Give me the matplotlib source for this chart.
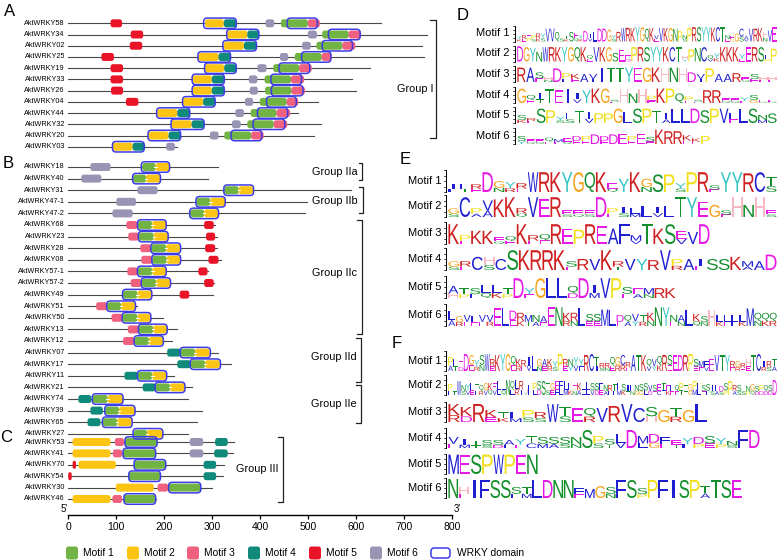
import matplotlib
matplotlib.use("Agg")
import matplotlib.pyplot as plt
from matplotlib.patches import FancyBboxPatch, PathPatch
from matplotlib.textpath import TextPath
from matplotlib.font_manager import FontProperties
from matplotlib.transforms import Affine2D

plt.rcParams["font.family"] = ["Liberation Sans", "DejaVu Sans"]

# ---------------- gene structure data (amino-acid positions) ----------------
GROUP_A_GENES = ["AktWRKY58", "AktWRKY34", "AktWRKY02", "AktWRKY25", "AktWRKY19", "AktWRKY33",
                 "AktWRKY26", "AktWRKY04", "AktWRKY44", "AktWRKY32", "AktWRKY20", "AktWRKY03"]
GROUP_A_LENGTHS = [652, 747, 736, 742, 629, 591, 599, 521, 479, 526, 511, 227]
GROUP_A_MOTIFS = [
    [(5, 88, 112), (2, 285, 324), (4, 324, 350), (6, 411, 429), (1, 443, 499), (3, 499, 524)],
    [(5, 130, 156), (2, 331, 373), (4, 373, 397), (6, 499, 518), (1, 529, 584), (3, 584, 610)],
    [(5, 128, 154), (2, 324, 366), (4, 366, 392), (6, 487, 505), (1, 517, 571), (3, 571, 598)],
    [(5, 69, 95), (2, 271, 313), (4, 313, 338), (6, 441, 458), (1, 472, 528), (3, 528, 549)],
    [(5, 88, 114), (2, 285, 325), (4, 325, 350), (6, 394, 413), (1, 427, 481), (3, 481, 507)],
    [(5, 88, 114), (2, 259, 299), (4, 299, 325), (6, 376, 394), (1, 409, 464), (3, 464, 491)],
    [(5, 89, 114), (2, 259, 299), (4, 299, 325), (6, 378, 395), (1, 410, 465), (3, 465, 493)],
    [(5, 120, 146), (2, 239, 281), (4, 281, 306), (6, 368, 385), (1, 399, 455), (3, 455, 479)],
    [(2, 185, 227), (4, 227, 253), (6, 348, 366), (1, 380, 434), (3, 434, 462)],
    [(2, 215, 257), (4, 257, 283), (6, 341, 359), (1, 373, 428), (3, 428, 456)],
    [(2, 167, 209), (4, 209, 234), (6, 295, 313), (1, 325, 381), (3, 381, 407)],
    [(2, 92, 134), (4, 134, 160), (6, 204, 222)],
]
GROUP_A_DOMAINS = [
    [(282, 350), (456, 519)], [(330, 397), (542, 608)], [(322, 392), (529, 592)],
    [(270, 338), (486, 547)], [(284, 350), (439, 503)], [(258, 325), (422, 486)],
    [(258, 325), (423, 489)], [(238, 306), (413, 475)], [(184, 253), (394, 457)],
    [(214, 283), (385, 451)], [(166, 234), (339, 403)], [(92, 158)],
]

GROUP_B_GENES = ["AktWRKY18", "AktWRKY40", "AktWRKY31", "AktWRKY47-1", "AktWRKY47-2", "AktWRKY68",
                 "AktWRKY23", "AktWRKY28", "AktWRKY08", "AktWRKY57-1", "AktWRKY57-2", "AktWRKY49",
                 "AktWRKY51", "AktWRKY50", "AktWRKY13", "AktWRKY12", "AktWRKY07", "AktWRKY17",
                 "AktWRKY11", "AktWRKY21", "AktWRKY74", "AktWRKY39", "AktWRKY65", "AktWRKY27"]
GROUP_B_LENGTHS = [311, 292, 589, 498, 493, 306, 309, 310, 318, 292, 303, 301,
                   144, 198, 227, 215, 311, 338, 220, 257, 250, 278, 269, 250]
GROUP_B_MOTIFS = [
    [(6, 46, 88), (1, 154, 182), (2, 182, 211)],
    [(6, 27, 69), (1, 135, 162), (2, 162, 192)],
    [(6, 144, 186), (1, 325, 355), (2, 355, 385)],
    [(6, 100, 141), (1, 267, 296), (2, 296, 327)],
    [(6, 92, 134), (1, 254, 283), (2, 283, 313)],
    [(3, 121, 144), (1, 145, 175), (2, 175, 204), (5, 283, 303)],
    [(3, 125, 147), (1, 147, 178), (2, 178, 208), (5, 287, 306)],
    [(3, 150, 173), (1, 173, 204), (2, 204, 234), (5, 285, 306)],
    [(3, 152, 175), (1, 175, 205), (2, 205, 234), (5, 292, 313)],
    [(3, 123, 145), (1, 145, 175), (2, 175, 204), (5, 271, 290)],
    [(3, 130, 153), (1, 153, 183), (2, 183, 213), (5, 283, 303)],
    [(1, 114, 144), (2, 144, 174), (5, 232, 252)],
    [(3, 58, 81), (1, 81, 110), (2, 110, 140)],
    [(3, 90, 113), (1, 113, 144), (2, 144, 172)],
    [(3, 124, 147), (1, 147, 177), (2, 177, 206)],
    [(3, 114, 138), (1, 138, 168), (2, 168, 198)],
    [(4, 206, 234), (1, 234, 264), (2, 264, 295)],
    [(4, 227, 255), (1, 255, 285), (2, 285, 316)],
    [(4, 117, 145), (1, 145, 175), (2, 175, 205)],
    [(4, 155, 182), (1, 182, 212), (2, 212, 243)],
    [(4, 21, 48), (1, 51, 82), (2, 82, 114)],
    [(4, 46, 72), (1, 77, 106), (2, 106, 139)],
    [(4, 40, 67), (1, 72, 102), (2, 102, 133)],
    [(1, 137, 164), (2, 164, 197)],
]
GROUP_B_DOMAINS = [
    [(152, 211)], [(134, 192)], [(324, 386)], [(266, 327)], [(253, 313)], [(144, 204)],
    [(146, 208)], [(172, 234)], [(174, 234)], [(144, 204)], [(152, 213)], [(113, 174)],
    [(80, 140)], [(112, 172)], [(146, 206)], [(137, 198)], [(233, 296)], [(254, 317)],
    [(144, 205)], [(181, 243)], [(50, 114)], [(76, 139)], [(71, 133)], [(135, 197)],
]

GROUP_C_GENES = ["AktWRKY53", "AktWRKY41", "AktWRKY70", "AktWRKY54", "AktWRKY30", "AktWRKY46"]
GROUP_C_LENGTHS = [345, 344, 324, 322, 299, 182]
GROUP_C_MOTIFS = [
    [(2, 9, 88), (3, 97, 116), (1, 118, 185), (6, 253, 281), (4, 306, 332)],
    [(2, 9, 88), (3, 93, 112), (1, 114, 182), (6, 253, 281), (4, 304, 332)],
    [(5, 9, 16), (2, 21, 99), (1, 137, 203), (4, 282, 308)],
    [(5, 0, 7), (1, 126, 192), (4, 282, 308)],
    [(2, 99, 178), (3, 186, 208), (1, 209, 276)],
    [(2, 9, 88), (3, 92, 112), (1, 116, 182)],
]
GROUP_C_DOMAINS = [[(118, 185)], [(114, 182)], [(137, 203)], [(126, 192)], [(209, 276)], [(116, 182)]]

GROUP_NAMES = ["Group I", "Group IIa", "Group IIb", "Group IIc", "Group IId", "Group IIe", "Group III"]
X_TICKS = [0, 100, 200, 300, 400, 500, 600, 700, 800]
MOTIF_NAMES = ["Motif 1", "Motif 2", "Motif 3", "Motif 4", "Motif 5", "Motif 6"]

# ---------------- sequence logo data (columns: letters top->bottom) ----------------
D_COLUMNS = [
    "YK RE EP PS RK YS V V Q TS TK S EQ YK D IV L D D G YS R W R K Y G Q K VE V K G N P NS P R S Y Y K C T NE EG G CS AV V R K HN V E",
    "D G Y N W R K Y G Q K QE V K G S E ED P R S Y Y K C T HY P N C QV YK K K K YE E R S LP P",
    "R A SE HN D PL KE A VI I T T Y E G K H N H D VI P A A R EQ SE HE HE",
    "G QE IT T E I IV Y K G SE H N H PE K P Q PE SE R R EQ EQ YE SG EQ EQ",
    "SK RE S P YS LS T IV P P G L S P T IA L L D S P V LE L S NM S",
    "SY EQ EQ QE ME EQ DE PE D DE D E PE E SE K R R KE KE P",
]
D_HEIGHTS = [
    [.35, .4, .55, .4, .5, .5, .8, .8, .6, .5, .35, .6, .55, .4, .65, .5, .6, .8, .8, .75, .4, .6, .85, .85, .85,
     .9, .9, .8, .85, .4, .85, .85, .85, .8, .65, .4, .85, .9, .9, .9, .9, .85, .9, .9, .4, .35, .5, .8, .35, .8,
     .8, .85, .6, .7, .9],
    [.95, .9, .85, .6, .9, .9, .9, .9, .9, .9, .9, .4, .9, .9, .9, .55, .75, .4, .9, .9, .9, .9, .9, .9, .9, .9,
     .35, .75, .85, .9, .4, .5, .9, .9, .9, .45, .9, .9, .9, .4, .8],
    [.9, .9, .6, .3, .85, .55, .5, .5, .5, .9, .9, .9, .9, .9, .9, .9, .9, .9, .9, .6, .5, .85, .5, .5, .55, .3,
     .5, .3, .3],
    [.9, .5, .6, .85, .8, .9, .6, .8, .9, .9, .2, .9, .6, .9, .45, .9, .9, .6, .4, .2, .8, .8, .3, .3, .35, .5,
     .2, .2],
    [.5, .3, .9, .8, .4, .6, .75, .7, .6, .6, .9, .7, .9, .9, .75, .6, .9, .9, .9, .8, .9, .9, .6, .9, .9, .5, .6],
    [.5, .3, .3, .4, .3, .35, .5, .5, .6, .5, .6, .65, .5, .65, .45, .9, .8, .8, .55, .35, .5],
]
D_ENDS = [777, 777, 777, 777, 777, 710]

E_COLUMNS = [
    "IL LT RE D GN YR RE W R K Y G Q K EQ Y K GN S P YS P R SE Y Y R C TS",
    "GS C PA VA K K RQ V E R ES EQ ES D PE IS LM L IV L T Y E G SE H N H ES",
    "K PE K K EQ QE K RE QE R E P R E A F MV T K S EV V D",
    "GS RE C HS C S K R R K SE R V K RT V Y R V PR A IE S S K MA A D",
    "AH TP SL LQ LK TP D YE G L L QD D IM V P SE EA MN R K",
    "LA GR VE LE VE VR E L DE RK MT NA AE E N KR RN L SE SE M L DE QA VY TR KN N Y NE AN L KQ SN H LK LE LF LK M QN QK QR",
]
E_HEIGHTS = [
    [.35, .35, .35, .9, .5, .45, .4, .9, .9, .9, .9, .9, .9, .9, .4, .6, .9, .6, .8, .8, .4, .9, .9, .3, .9, .9,
     .85, .9, .7],
    [.4, .9, .4, .75, .8, .9, .4, .9, .8, .9, .3, .3, .3, .9, .4, .45, .4, .5, .45, .5, .9, .9, .7, .55, .3, .9,
     .55, .9, .3],
    [.9, .4, .6, .6, .3, .35, .9, .4, .45, .9, .7, .65, .9, .8, .7, .9, .4, .9, .7, .9, .6, .55, .9],
    [.4, .4, .6, .6, .5, .9, .9, .9, .9, .9, .4, .5, .5, .9, .4, .5, .5, .45, .9, .5, .5, .5, .5, .5, .6, .4,
     .4, .7],
    [.55, .45, .45, .6, .6, .45, .9, .45, .9, .9, .9, .55, .9, .6, .9, .9, .5, .45, .45, .45, .45],
    [.7, .45, .5, .45, .5, .5, .8, .8, .7, .6, .5, .5, .45, .85, .85, .6, .6, .8, .55, .55, .75, .75, .5, .5,
     .55, .5, .6, .85, .85, .5, .5, .75, .55, .45, .75, .5, .5, .5, .5, .8, .6, .6, .6],
]
E_ENDS = [777, 777, 710, 777, 676, 777]

F_COLUMNS = [
    "PA LT ED D GE YR SN W RE K Y G QE KR RE IV L GN AE KR YS P RE NY YV YF R C TI RS RN QE GR CR RE A T K QV VY "
    "QK R SE E D R P SE ME FV E V T Y RE GR RE HE T C IR RS TA",
    "PL LT W NS YV LE TL QR GV KQ EV LL LQ N QL LR RI HY LL PL SD S TS GE EF FL LM LK EN KA LL LL SV SD FE NA RL "
    "TL LM SK IT LN NG SG SL VD SE EC TF EK LE QE PT TT GG PM LL SE SL IS LA DS SP P RA SS LS NP GQ SD PD QD SD D",
    "KR KD R KE TK LM PS RS W TS E QR V R V C SH G TR G L",
    "VE IM TT SS SD AL YE TC SM SA SS NN S PS ST LV D ML DG FE ET YL DP SE YP NS F D",
    "M E S P W P E N",
    "N HE I F S S SL TM L D N N FE M G SN F S SP P F I S P TA T S E",
]
F_HEIGHTS = [
    [.7, .6, .5, .85, .8, .55, .8, .85, .6, .8, .85, .85, .75, .6, .55, .7, .75, .6, .6, .6, .5, .85, .6, .6,
     .7, .6, .8, .85, .7, .4, .4, .7, .7, .8, .45, .8, .8, .8, .6, .6, .75, .8, .8, .8, .8, .8, .85, .6, .5, .5,
     .6, .8, .8, .8, .5, .5, .4, .6, .8, .85, .5, .5, .6],
    [.55, .5, .7, .5, .55, .6, .55, .5, .6, .6, .6, .7, .65, .75, .7, .75, .7, .3, .5, .6, .7, .7, .6, .6, .7,
     .7, .7, .6, .5, .6, .65, .65, .6, .6, .6, .5, .5, .55, .6, .55, .5, .5, .5, .55, .6, .5, .5, .55, .6, .5,
     .5, .5, .6, .5, .55, .7, .6, .5, .55, .5, .5, .45, .6, .7, .5, .5, .5, .45, .55, .45, .5, .5, .5, .75],
    [.9, .75, .9, .6, .5, .5, .6, .5, .9, .75, .7, .7, .7, .8, .9, .7, .75, .6, .7, .6, .9],
    [.55, .45, .35, .4, .4, .4, .45, .6, .55, .55, .55, .55, .9, .6, .45, .7, .9, .6, .7, .55, .4, .5, .55, .6,
     .5, .35, .9, .9],
    [.97, .97, .97, .97, .97, .97, .97, .97],
    [.95, .55, .9, .9, .9, .9, .55, .55, .9, .9, .9, .9, .5, .45, .6, .55, .9, .9, .5, .9, .9, .9, .9, .9, .6,
     .9, .9, .9],
]
F_ENDS = [777, 777, 707, 760, 538, 742]

# ---------------- styles ----------------
MOTIF_COLORS = {1: "#72b443", 2: "#fcc514", 3: "#f0607f", 4: "#0f8a7b", 5: "#ea1429", 6: "#9795b3"}
DOMAIN_EDGE = "#3c3ce6"
AA_COLORS = {}
for aa in "ACFILMVW":
    AA_COLORS[aa] = "#1f1fd1"
for aa in "NQST":
    AA_COLORS[aa] = "#13902c"
for aa in "DE":
    AA_COLORS[aa] = "#e619e6"
for aa in "KR":
    AA_COLORS[aa] = "#cf1f1f"
AA_COLORS.update({"H": "#f7b9c2", "G": "#f7a21b", "P": "#f2df1a", "Y": "#35c4c4"})

PX_PER_UNIT = 384.0 / 800.0   # horizontal pixels per amino acid
LINE_COLOR = "#484848"

fig = plt.figure(figsize=(7.8, 5.6), dpi=100)
ax_logo = fig.add_axes([0, 0, 1, 1])
ax_logo.set_xlim(0, 780)
ax_logo.set_ylim(560, 0)
ax_logo.axis("off")

ax = fig.add_axes([68.3 / 780, 45 / 560, 384 / 780, 515 / 560])
ax.patch.set_alpha(0)
ax.set_xlim(0, 800)
ax.set_ylim(515, 0)
for side in ["top", "right", "left"]:
    ax.spines[side].set_visible(False)
ax.spines["bottom"].set_linewidth(1.0)
ax.set_yticks([])
ax.set_xticks(X_TICKS)
ax.tick_params(axis="x", labelsize=7.5, length=3, width=0.9, pad=2)


def round_box(axis, x, y, w, h, face, edge="none", lw=0.0, radius_px=2.5, z=2):
    r = min(radius_px / PX_PER_UNIT, w / 2.0, h / (2.0 * PX_PER_UNIT))
    patch = FancyBboxPatch((x, y - h / 2.0), w, h, boxstyle=f"round,pad=0,rounding_size={r}",
                           mutation_aspect=PX_PER_UNIT, facecolor=face, edgecolor=edge,
                           linewidth=lw, zorder=z, clip_on=False)
    axis.add_patch(patch)


def draw_gene_rows(names, lengths, motifs, domains, y0, step, white_gap=False):
    for i, name in enumerate(names):
        y = y0 + i * step
        ax.plot([0, lengths[i]], [y, y], color=LINE_COLOR, lw=0.8, zorder=1, clip_on=False)
        ax.text(-7, y, name, ha="right", va="center", fontsize=5.2)
        for m, s, e in motifs[i]:
            round_box(ax, s, y, e - s, 8, MOTIF_COLORS[m])
            if white_gap and m == 1:
                ax.plot([e - 2.5, e + 2.5], [y, y], color="white", lw=0.8, zorder=3)
        for s, e in domains[i]:
            round_box(ax, s, y, e - s, 10.5, "none", edge=DOMAIN_EDGE, lw=1.1, radius_px=3.5, z=4)


draw_gene_rows(GROUP_A_GENES, GROUP_A_LENGTHS, GROUP_A_MOTIFS, GROUP_A_DOMAINS, 23.3, 11.22)
draw_gene_rows(GROUP_B_GENES, GROUP_B_LENGTHS, GROUP_B_MOTIFS, GROUP_B_DOMAINS, 167.0, 11.6, white_gap=True)
draw_gene_rows(GROUP_C_GENES, GROUP_C_LENGTHS, GROUP_C_MOTIFS, GROUP_C_DOMAINS, 442.0, 11.4)


def bracket(x, y_top, y_bot, tick, label, label_x, label_y):
    ax.plot([x - tick, x, x, x - tick], [y_top, y_top, y_bot, y_bot], color="#222222", lw=0.9, clip_on=False)
    ax.text(label_x, label_y, label, ha="right", va="center", fontsize=7.8)


bracket(765, 20, 138, 12, GROUP_NAMES[0], 760, 89)
bracket(611, 163, 180, 6, GROUP_NAMES[1], 603, 172)
bracket(614, 187, 213, 8, GROUP_NAMES[2], 603, 201)
bracket(611, 220, 334, 10, GROUP_NAMES[3], 601, 273)
bracket(610, 338, 382, 10, GROUP_NAMES[4], 601, 357)
bracket(610, 385, 423, 10, GROUP_NAMES[5], 601, 404)
bracket(447, 437, 502, 10, GROUP_NAMES[6], 437, 469)

ax_logo.text(64, 509, "5'", ha="center", va="center", fontsize=7)
ax_logo.text(457, 509, "3'", ha="center", va="center", fontsize=7)

# panel letters
for letter, px, py in [("A", 10, 11), ("B", 8, 163), ("C", 6, 437), ("D", 463, 16), ("E", 405, 160),
                       ("F", 397, 344)]:
    ax_logo.text(px, py, letter, ha="center", va="center", fontsize=12)

# ---------------- sequence logos ----------------
LOGO_FONT = FontProperties(family="Liberation Sans")
_glyph_cache = {}


def glyph(letter):
    if letter not in _glyph_cache:
        _glyph_cache[letter] = TextPath((0, 0), letter, size=10, prop=LOGO_FONT)
    return _glyph_cache[letter]


def draw_letter(letter, x, y_bot, w, h):
    if h < 0.4:
        return
    path = glyph(letter)
    ext = path.get_extents()
    if letter == "I":
        x, w = x + w * 0.36, w * 0.28
    t = Affine2D().translate(-ext.x0, -ext.y0).scale(w / ext.width, -h / ext.height).translate(x, y_bot)
    ax_logo.add_patch(PathPatch(t.transform_path(path), facecolor=AA_COLORS[letter], edgecolor="none", lw=0))


STACK_FRACS = {1: [1.0], 2: [0.62, 0.38], 3: [0.5, 0.3, 0.2]}


def draw_logo(columns, heights, x0, x1, y_center, H):
    tokens = columns.split()
    w = (x1 - x0) / len(tokens)
    base = y_center + H / 2.0
    for i, tok in enumerate(tokens):
        total = heights[i] * H
        fracs = STACK_FRACS[len(tok)]
        y = base
        for letter, f in reversed(list(zip(tok, fracs))):
            hh = total * f
            draw_letter(letter, x0 + i * w + w * 0.04, y, w * 0.92, hh)
            y -= hh
    ax_logo.plot([x0 - 2.5, x0 - 2.5], [base - H, base], color="black", lw=0.7)
    for k in range(5):
        yy = base - H * k / 4.0
        ax_logo.plot([x0 - 4.5, x0 - 2.5], [yy, yy], color="black", lw=0.5)


def draw_logo_panel(columns, heights, ends, x0, centers, H, label_x):
    for i in range(len(columns)):
        ax_logo.text(label_x, centers[i], MOTIF_NAMES[i], ha="right", va="center", fontsize=8)
        draw_logo(columns[i], heights[i], x0, ends[i], centers[i], H)


draw_logo_panel(D_COLUMNS, D_HEIGHTS, D_ENDS, 517, [33.5, 53.5, 74, 95, 115, 136], 16, 509)
draw_logo_panel(E_COLUMNS, E_HEIGHTS, E_ENDS, 448, [181, 206, 233, 259, 287, 315], 22, 441)
draw_logo_panel(F_COLUMNS, F_HEIGHTS, F_ENDS, 448, [361, 385, 412, 438, 464, 488], 20, 441)

# ---------------- legend ----------------
legend_x = [66, 127, 187, 248, 309, 370]
for i, lx in enumerate(legend_x):
    sw = FancyBboxPatch((lx, 553 - 6.5), 12, 13, boxstyle="round,pad=0,rounding_size=2.5",
                        facecolor=MOTIF_COLORS[i + 1], edgecolor="none")
    ax_logo.add_patch(sw)
    ax_logo.text(lx + 17, 553, MOTIF_NAMES[i], ha="left", va="center", fontsize=7.4)
ax_logo.add_patch(FancyBboxPatch((431, 553 - 5), 19, 10, boxstyle="round,pad=0,rounding_size=3",
                                 facecolor="none", edgecolor=DOMAIN_EDGE, linewidth=1.1))
ax_logo.text(457, 553, "WRKY domain", ha="left", va="center", fontsize=7.4)

fig.savefig("out.png", dpi=100, facecolor="white")
